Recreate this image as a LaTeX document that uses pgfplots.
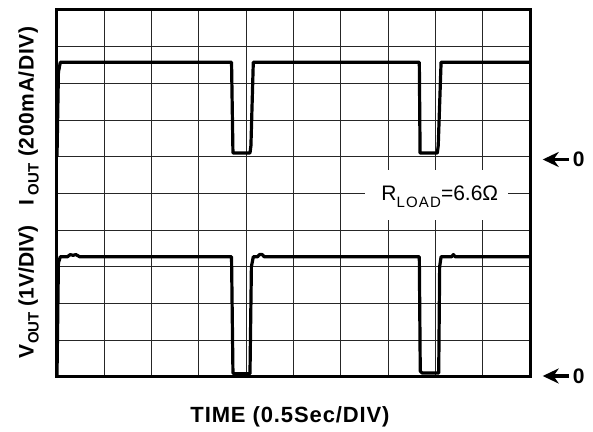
\documentclass[border=0pt]{standalone}
\usepackage{pgfplots}
\pgfplotsset{compat=1.18}
\usepackage{fontspec}
\setmainfont{Liberation Sans}
\usetikzlibrary{arrows.meta}
\pgfplotstableread{
t v
0 6.0
0.015 8.3
0.035 8.575
1.845 8.575
1.86 6.1
2.04 6.1
2.05 6.3
2.075 8.575
3.83 8.575
3.838 6.1
4.02 6.1
4.03 6.3
4.06 8.575
5 8.575
}\currentdata
\pgfplotstableread{
t v
0 0.05
0.015 3.1
0.035 3.27
0.11 3.27
0.14 3.33
0.17 3.31
0.2 3.33
0.24 3.27
1.845 3.27
1.86 0.1
1.88 0.08
2.04 0.08
2.055 3.0
2.075 3.27
2.12 3.27
2.14 3.33
2.17 3.33
2.19 3.27
3.83 3.27
3.84 0.15
3.86 0.1
4.035 0.1
4.045 3.0
4.06 3.27
4.17 3.27
4.19 3.33
4.21 3.27
5 3.27
}\voltagedata
\begin{document}
\begin{tikzpicture}
\path[use as bounding box] (0pt,0pt) rectangle (296.5pt,216pt);
\begin{axis}[
  at={(28.5pt,27.65pt)}, anchor=south west,
  width=236.5pt, height=183.35pt, scale only axis,
  xmin=0, xmax=5, ymin=0, ymax=10,
  xtick={0,0.5,...,5}, ytick={0,1,...,10},
  xticklabels={}, yticklabels={},
  major tick length=0pt,
  grid=major,
  major grid style={line width=0.5pt, draw=black!85},
  axis line style={line width=1.5pt},
  clip=false,
]
\fill[white] (axis cs:3.256,4.273) rectangle (axis cs:4.767,5.637);
\addplot[black, line width=1.6pt, line join=round] table[x=t,y=v] {\currentdata};
\addplot[black, line width=1.6pt, line join=round] table[x=t,y=v] {\voltagedata};
\end{axis}
% R_LOAD label
\node[anchor=base west, inner sep=0pt, font=\fontsize{10.5}{12}\selectfont] at (190.5pt,115.5pt)
  {R\raisebox{-3.5pt}{\fontsize{7.5}{8}\selectfont\addfontfeatures{LetterSpace=8}LOAD}=6.6Ω};
% zero markers
\draw[line width=1.6pt, -{Stealth[length=8pt,width=7.5pt]}] (284.5pt,136.25pt) -- (271.35pt,136.25pt);
\node[inner sep=0pt, font=\fontsize{10.5}{11}\selectfont\bfseries] at (289.3pt,136.25pt) {0};
\draw[line width=1.6pt, -{Stealth[length=8pt,width=7.5pt]}] (284.5pt,28pt) -- (271.35pt,28pt);
\node[inner sep=0pt, font=\fontsize{10.5}{11}\selectfont\bfseries] at (289.3pt,28pt) {0};
% axis labels
\node[anchor=base, inner sep=0pt, font=\fontsize{11}{12}\selectfont\bfseries\addfontfeatures{LetterSpace=4}] at (145pt,4.5pt) {TIME (0.5Sec/DIV)};
\node[anchor=base, inner sep=0pt, rotate=90, font=\fontsize{10.5}{12}\selectfont\bfseries\addfontfeatures{LetterSpace=3}] at (16.8pt,158pt)
  {I\,\raisebox{-2.5pt}{\fontsize{7.5}{8}\selectfont OUT} (200mA/DIV)};
\node[anchor=base, inner sep=0pt, rotate=90, font=\fontsize{10.5}{12}\selectfont\bfseries] at (16.8pt,70pt)
  {V\raisebox{-2.5pt}{\fontsize{7.5}{8}\selectfont OUT} (1V/DIV)};
\end{tikzpicture}
\end{document}
